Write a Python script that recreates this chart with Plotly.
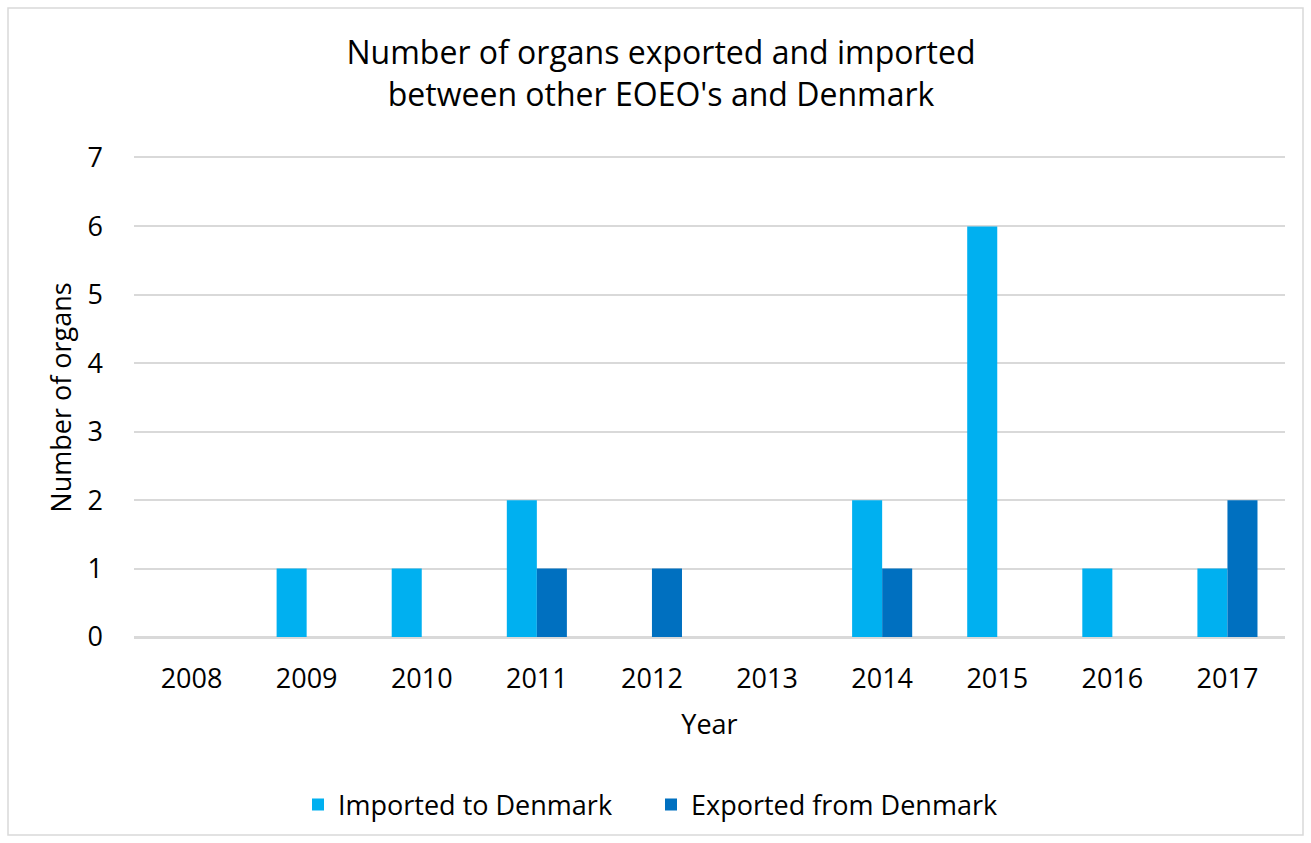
import plotly.graph_objects as go

years = ["2008", "2009", "2010", "2011", "2012", "2013", "2014", "2015", "2016", "2017"]
imported = [0, 1, 1, 2, 0, 0, 2, 6, 1, 1]
exported = [0, 0, 0, 1, 1, 0, 1, 0, 0, 2]

W, H = 1311, 843
L, R, T, B = 134, 26, 158, 206
FONT = "Open Sans"
GRID = "#D9D9D9"

fig = go.Figure()
fig.add_trace(go.Bar(x=years, y=imported, name="Imported to Denmark",
                     marker=dict(color="#00B0F0", line=dict(width=0))))
fig.add_trace(go.Bar(x=years, y=exported, name="Exported from Denmark",
                     marker=dict(color="#0070C0", line=dict(width=0))))

pw, ph = W - L - R, H - T - B
# chart outer border (like Excel chart area)
fig.add_shape(type="rect", xref="paper", yref="paper",
              x0=(8 - L) / pw, x1=(1303 - L) / pw,
              y0=(H - B - 835) / ph, y1=(H - B - 8) / ph,
              line=dict(color=GRID, width=1.5), layer="below")

fig.update_layout(
    width=W, height=H,
    margin=dict(l=L, r=R, t=T, b=B, autoexpand=False),
    paper_bgcolor="white", plot_bgcolor="white",
    font=dict(family=FONT, size=27, color="black"),
    title=dict(text="Number of organs exported and imported<br>between other EOEO's and Denmark",
               x=661 / W, xanchor="center", y=1 - 64 / H, yanchor="middle",
               font=dict(size=32)),
    barmode="group", bargap=0.478, bargroupgap=0,
    showlegend=True,
    legend=dict(orientation="h", x=(298 - L) / pw, xanchor="left",
                y=-(805 - (H - B)) / ph, yanchor="middle", font=dict(size=27),
                itemwidth=30, entrywidth=308, traceorder="normal"),
    xaxis=dict(title=dict(text="Year", standoff=20, font=dict(size=27)), showgrid=False,
               showline=True, linecolor=GRID, linewidth=1.5, mirror=True,
               ticks="", ticklabelstandoff=17, tickfont=dict(size=27)),
    yaxis=dict(title=dict(text="Number of organs", standoff=8, font=dict(size=27)),
               range=[0, 7], tickvals=[0, 1, 2, 3, 4, 5, 6, 7],
               showgrid=True, gridcolor=GRID, gridwidth=1.5, zeroline=True,
               zerolinecolor=GRID, zerolinewidth=1.5, showline=False, ticks="",
               ticklabelstandoff=30, tickfont=dict(size=27)),
)

fig.write_html("out.html", config={"displayModeBar": False},
               post_script="document.body.style.margin='0';")
